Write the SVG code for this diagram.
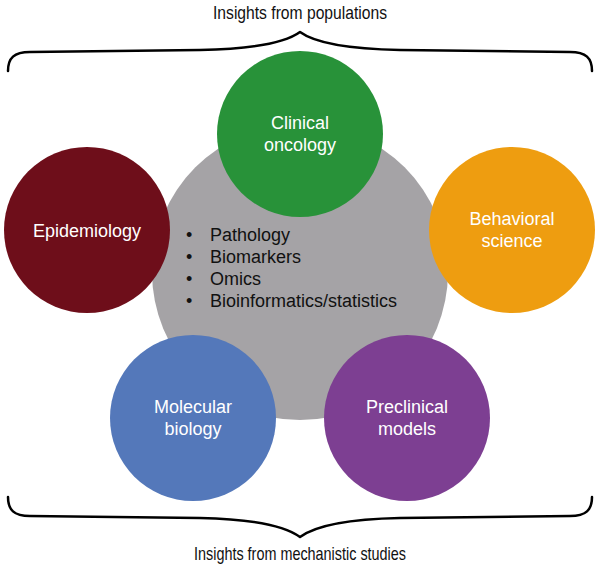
<svg xmlns="http://www.w3.org/2000/svg" width="600" height="570" viewBox="0 0 600 570">
<style>
.lbl{font-family:"Liberation Sans",Arial,sans-serif;font-size:18px;fill:#ffffff;text-anchor:middle}
.cap{font-family:"Liberation Sans",Arial,sans-serif;font-size:18.5px;fill:#111111;text-anchor:middle}
.lst{font-family:"Liberation Sans",Arial,sans-serif;font-size:18px;fill:#111111}
.brace{fill:none;stroke:#000000;stroke-width:2.5;stroke-linecap:round;stroke-linejoin:round}
</style>
<rect width="600" height="570" fill="#ffffff"/>
<g id="connectors">
<path class="brace" d="M8,71 C8,58 14,52 30,52 L200,50 C250,49 285,43 300,32 C315,43 350,49 400,50 L570,52 C586,52 592,58 592,71"/>
<path class="brace" d="M8,497 C8,510 14,516 30,516 L200,518 C250,519 285,526 300,537 C315,526 350,519 400,518 L570,516 C586,516 592,510 592,497"/>
</g>
<text class="cap" x="300" y="19" textLength="174" lengthAdjust="spacingAndGlyphs">Insights from populations</text>
<text class="cap" x="300" y="560" textLength="212" lengthAdjust="spacingAndGlyphs">Insights from mechanistic studies</text>
<g id="core">
<circle cx="300" cy="272" r="148" fill="#a5a3a6"/>
<text class="lst" x="186" y="241">•</text><text class="lst" x="210" y="241">Pathology</text>
<text class="lst" x="186" y="263">•</text><text class="lst" x="210" y="263">Biomarkers</text>
<text class="lst" x="186" y="285">•</text><text class="lst" x="210" y="285">Omics</text>
<text class="lst" x="186" y="307">•</text><text class="lst" x="210" y="307">Bioinformatics/statistics</text>
</g>
<g id="clinical-oncology">
<circle cx="300" cy="134" r="83" fill="#289239"/>
<text class="lbl" x="300" y="129">Clinical</text>
<text class="lbl" x="300" y="151">oncology</text>
</g>
<g id="epidemiology">
<circle cx="87" cy="230" r="83" fill="#6e0e1a"/>
<text class="lbl" x="87" y="237">Epidemiology</text>
</g>
<g id="behavioral-science">
<circle cx="512" cy="230" r="83" fill="#ee9d10"/>
<text class="lbl" x="512" y="225">Behavioral</text>
<text class="lbl" x="512" y="247">science</text>
</g>
<g id="molecular-biology">
<circle cx="193" cy="418" r="83" fill="#5478ba"/>
<text class="lbl" x="193" y="413">Molecular</text>
<text class="lbl" x="193" y="435">biology</text>
</g>
<g id="preclinical-models">
<circle cx="407" cy="418" r="83" fill="#7d3f92"/>
<text class="lbl" x="407" y="413">Preclinical</text>
<text class="lbl" x="407" y="435">models</text>
</g>
</svg>
